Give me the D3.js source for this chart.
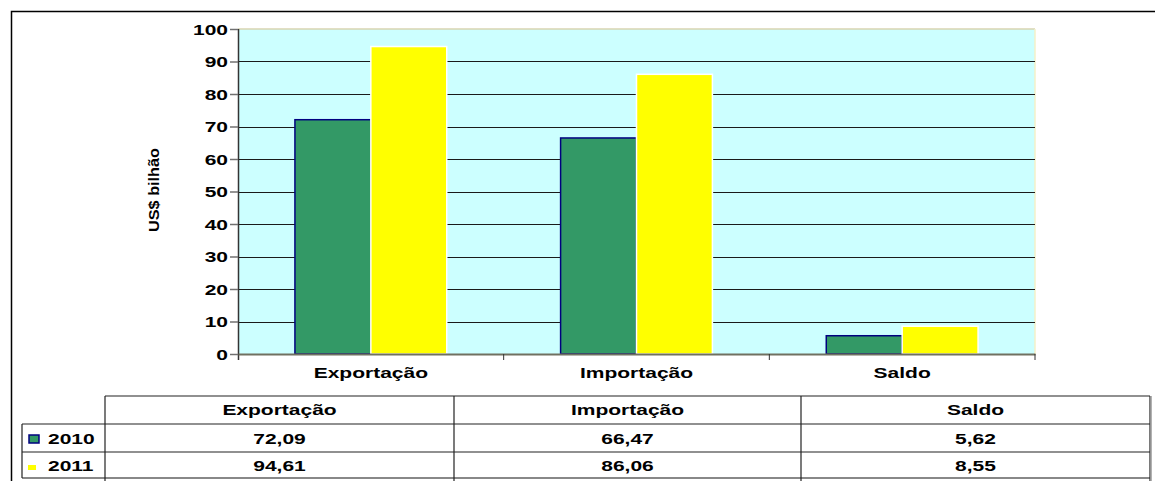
<!DOCTYPE html>
<html><head><meta charset="utf-8">
<script src="https://cdn.jsdelivr.net/npm/d3@7"></script>
<style>body{margin:0;background:#fff;} svg text{font-family:"Liberation Sans",Arial,sans-serif !important;font-weight:700 !important;fill:#000;}</style>
</head><body>
<svg id="c" width="1155" height="481"></svg>
<script>
const categories = ["Exportação", "Importação", "Saldo"];
const seriesNames = ["2010", "2011"];
const values2010 = [72.09, 66.47, 5.62];
const values2011 = [94.61, 86.06, 8.55];
const yTicks = [0, 10, 20, 30, 40, 50, 60, 70, 80, 90, 100];
const tableLabels2010 = ["72,09", "66,47", "5,62"];
const tableLabels2011 = ["94,61", "86,06", "8,55"];
const seriesFill = ["#339966", "#ffff00"];
const seriesStroke = ["#000080", "#ffffff"];

const SX = 1.5, FS = 14;
const svg = d3.select("#c");
const L = 238, R = 1035, T = 29, B = 354;

// outer frame
svg.append("path").attr("d", "M11.5,481 L11.5,11.5 L1155,11.5").attr("fill","none").attr("stroke","#000").attr("stroke-width",1.5);

const x = d3.scaleBand().domain(categories).range([L, R]).paddingInner(0).paddingOuter(0);
const barW = x.bandwidth() / 3.5;
const xs = d3.scaleBand().domain(seriesNames).range([0, barW*2]);
const y = d3.scaleLinear().domain([0, 100]).range([B, T]);

// plot bg
svg.append("rect").attr("x", L).attr("y", T).attr("width", R-L).attr("height", B-T).attr("fill", "#ccffff");
svg.append("line").attr("x1",L).attr("x2",R).attr("y1",T).attr("y2",T).attr("stroke","#d8d4b0").attr("stroke-width",1.5);
svg.append("line").attr("x1",R).attr("x2",R).attr("y1",T).attr("y2",B).attr("stroke","#f4f0c8").attr("stroke-width",1.5);

// gridlines
svg.append("g").selectAll("line").data(yTicks.filter(d => d > 0 && d < 100)).join("line")
  .attr("x1", L).attr("x2", R).attr("y1", d => Math.round(y(d))+0.5).attr("y2", d => Math.round(y(d))+0.5)
  .attr("stroke", "#1a1a1a").attr("stroke-width", 1);

// bars
const data = categories.map((c,i) => ({c, v:[values2010[i], values2011[i]]}));
const g = svg.append("g");
data.forEach(d => {
  seriesNames.forEach((s, si) => {
    const x0 = x(d.c) + barW*0.75 + xs(s);
    g.append("rect").attr("x", x0).attr("y", y(d.v[si])).attr("width", xs.bandwidth()).attr("height", B - y(d.v[si]))
      .attr("fill", seriesFill[si]).attr("stroke", seriesStroke[si]).attr("stroke-width", 1.5);
  });
});

// y axis
const ya = svg.append("g").attr("transform", `translate(${L},0)`)
  .call(d3.axisLeft(y).tickValues(yTicks).tickSize(8).tickPadding(4));
ya.select(".domain").attr("stroke", "#333").attr("stroke-width",1.5).attr("d", `M0.5,${T}V${B+6}`);
ya.selectAll(".tick line").attr("stroke", "#707070").attr("stroke-width",1.5);
ya.selectAll("text").attr("font-size", FS).attr("x", 0).attr("dy", "0.36em")
  .attr("transform", `translate(-10,0) scale(${SX},1)`);

// x axis
const xa = svg.append("g").attr("transform", `translate(0,${B})`)
  .call(d3.axisBottom(x).tickSize(0).tickPadding(14));
xa.select(".domain").attr("stroke", "#707060").attr("stroke-width",2);
xa.selectAll("text").attr("font-size", FS).attr("x", 0).attr("y", 0).attr("dy", null)
  .attr("transform", `translate(0,24) scale(${SX},1)`);
svg.append("g").selectAll("line").data(categories.slice(1).concat(["end"])).join("line")
  .attr("x1", d => d==="end" ? R : x(d)).attr("x2", d => d==="end" ? R : x(d))
  .attr("y1", B).attr("y2", B+6).attr("stroke","#333").attr("stroke-width",1);

// y title
svg.append("text").attr("transform", "translate(159,190) rotate(-90)").attr("text-anchor","middle")
  .attr("font-size", 15).attr("textLength", 84).attr("lengthAdjust","spacingAndGlyphs").text("US$ bilhão");

// table
const tL = 105, tR = 1150, legL = 22;
const rowsY = [396, 424, 452, 478];
const tbl = svg.append("g").attr("stroke","#222").attr("stroke-width",1.2);
tbl.append("line").attr("x1",tL).attr("x2",tR).attr("y1",rowsY[0]).attr("y2",rowsY[0]);
tbl.append("line").attr("x1",legL).attr("x2",tR).attr("y1",rowsY[1]).attr("y2",rowsY[1]);
tbl.append("line").attr("x1",legL).attr("x2",tR).attr("y1",rowsY[2]).attr("y2",rowsY[2]);
tbl.append("line").attr("x1",legL).attr("x2",tR).attr("y1",rowsY[3]).attr("y2",rowsY[3]).attr("stroke","#888").attr("stroke-width",2);
const colX = [tL, 454, 801, tR];
colX.forEach(cx => tbl.append("line").attr("x1",cx).attr("x2",cx).attr("y1",rowsY[0]).attr("y2",481));
tbl.append("line").attr("x1",legL).attr("x2",legL).attr("y1",rowsY[1]).attr("y2",rowsY[3]);
tbl.append("line").attr("x1",tR+1).attr("x2",tR+1).attr("y1",rowsY[0]).attr("y2",481).attr("stroke","#999").attr("stroke-width",1.5);

const colCenters = categories.map((c,i) => (colX[i]+colX[i+1])/2);
const tt = svg.append("g").attr("font-size", FS).attr("text-anchor","middle");
function put(sel, tx, ty, txt, anchor) {
  return sel.append("text").attr("text-anchor", anchor || "middle")
    .attr("transform", `translate(${tx},${ty}) scale(${SX},1)`).attr("font-size", FS).text(txt);
}
categories.forEach((c,i) => {
  put(tt, colCenters[i], 415, c);
  put(tt, colCenters[i], 444, tableLabels2010[i]);
  put(tt, colCenters[i], 471, tableLabels2011[i]);
});
// legend keys
svg.append("rect").attr("x", 29).attr("y", 435).attr("width", 10).attr("height", 8).attr("fill", seriesFill[0]).attr("stroke", seriesStroke[0]).attr("stroke-width",1.5);
svg.append("rect").attr("x", 28).attr("y", 465).attr("width", 8).attr("height", 5).attr("fill", seriesFill[1]);
seriesNames.forEach((s,i) => put(svg, 48, i===0?444:471, s, "start"));
</script>
</body></html>
